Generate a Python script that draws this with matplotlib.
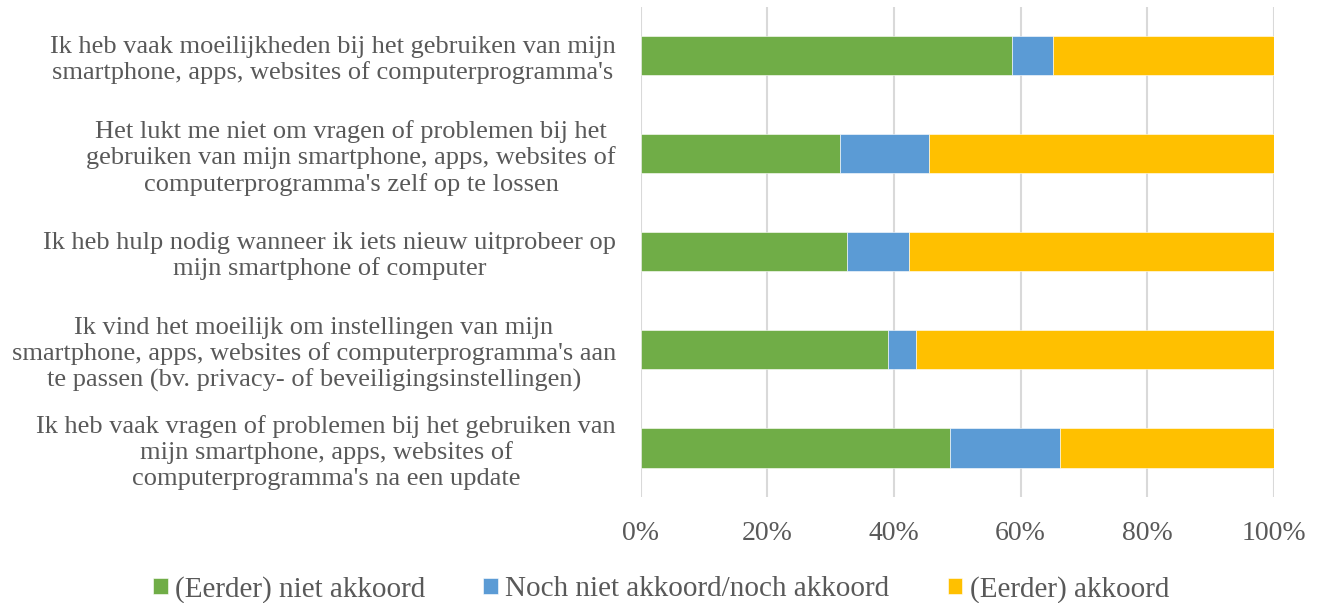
import numpy as np
import matplotlib.pyplot as plt
from matplotlib.ticker import PercentFormatter

plt.rcParams['font.family'] = ['Liberation Serif', 'DejaVu Serif']

# ----------------------------
# Data (top to bottom as shown)
# ----------------------------
categories = [
    "Ik heb vaak moeilijkheden bij het gebruiken van mijn\nsmartphone, apps, websites of computerprogramma's",
    "Het lukt me niet om vragen of problemen bij het\ngebruiken van mijn smartphone, apps, websites of\ncomputerprogramma's zelf op te lossen",
    "Ik heb hulp nodig wanneer ik iets nieuw uitprobeer op\nmijn smartphone of computer",
    "Ik vind het moeilijk om instellingen van mijn\nsmartphone, apps, websites of computerprogramma's aan\nte passen (bv. privacy- of beveiligingsinstellingen)",
    "Ik heb vaak vragen of problemen bij het gebruiken van\nmijn smartphone, apps, websites of\ncomputerprogramma's na een update",
]
niet_akkoord = [58.7, 31.5, 32.6, 39.1, 48.9]
neutraal = [6.4, 14.1, 9.8, 4.4, 17.3]
akkoord = [34.9, 54.4, 57.6, 56.5, 33.8]

series_names = ["(Eerder) niet akkoord", "Noch niet akkoord/noch akkoord", "(Eerder) akkoord"]
colors = ["#70AD47", "#5B9BD5", "#FFC000"]
text_color = "#595959"

# ----------------------------
# Figure
# ----------------------------
fig = plt.figure(figsize=(13.22, 6.03), dpi=100)
ax = fig.add_axes([0.4847, 0.1758, 0.4788, 0.8134])

y = np.arange(len(categories))
left = np.zeros(len(categories))
for vals, name, col in zip([niet_akkoord, neutraal, akkoord], series_names, colors):
    vals = np.array(vals)
    ax.barh(y, vals, left=left, height=0.4, color=col, label=name,
            edgecolor="white", linewidth=0.4, zorder=3)
    left += vals

ax.set_ylim(len(categories) - 0.5, -0.5)
ax.set_xlim(0, 100)
ax.set_xticks(np.arange(0, 101, 20))
ax.xaxis.set_major_formatter(PercentFormatter(decimals=0))
ax.grid(axis="x", color="#D9D9D9", lw=1.5, zorder=0)

for s in ax.spines.values():
    s.set_visible(False)

ax.set_yticks(y)
ax.set_yticklabels(categories, fontsize=19, color=text_color,
                   multialignment="center", linespacing=1.2)
ax.tick_params(axis="y", length=0, pad=18)
ax.tick_params(axis="x", length=0, pad=17, labelsize=20, labelcolor=text_color)

# ----------------------------
# Legend
# ----------------------------
fig.legend(loc="lower center", bbox_to_anchor=(0.5, -0.043), ncol=3,
           frameon=False, fontsize=21, labelcolor=text_color,
           handlelength=0.5, handleheight=0.5, handletextpad=0.25,
           columnspacing=2.0)

plt.savefig("out.png")
